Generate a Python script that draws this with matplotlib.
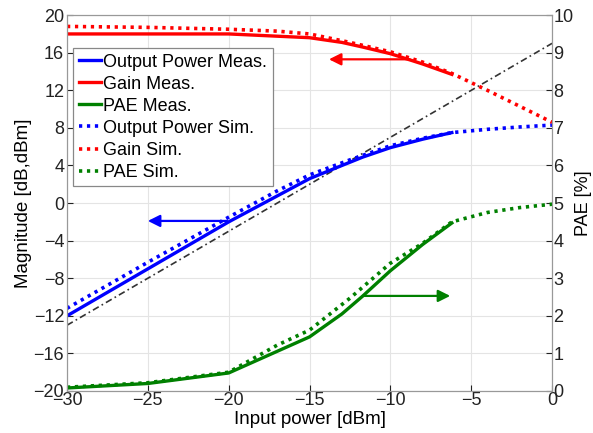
import matplotlib
matplotlib.use('Agg')
import matplotlib.pyplot as plt

plt.rcParams['font.family'] = ['Liberation Sans', 'DejaVu Sans']

# measured data (input power in dBm)
pin_meas = [-30, -25, -20, -15, -13, -11.7, -10, -8, -6.2]
pout_meas = [-12, -7, -2, 2.6, 4.0, 4.9, 5.9, 6.8, 7.5]
gain_meas = [18, 18, 18, 17.6, 17.1, 16.6, 15.9, 14.8, 13.7]
pae_meas = [0.08, 0.2, 0.48, 1.44, 2.05, 2.53, 3.2, 3.9, 4.47]

# simulated data
pin_sim = [-30, -25, -20, -17, -15, -12.5, -10, -8, -6.2, -4, -2, 0]
pout_sim = [-11.2, -6.3, -1.5, 1.3, 3.0, 4.6, 6.1, 6.9, 7.5, 7.85, 8.1, 8.3]
gain_sim = [18.8, 18.7, 18.5, 18.3, 18.0, 17.1, 16.1, 15.0, 13.8, 12.0, 10.3, 8.6]
pae_sim = [0.1, 0.22, 0.5, 1.22, 1.62, 2.47, 3.4, 3.93, 4.5, 4.75, 4.88, 4.97]

# linear gain reference line
pin_ref = [-30, 0]
pout_ref = [-13, 17]

xticks = [-30, -25, -20, -15, -10, -5, 0]
yticks = list(range(-20, 21, 4))
pae_ticks = list(range(0, 11))

blue, red, green = '#0000ff', '#ff0000', '#008000'
dot = (0, (0.9, 1.3))

fig = plt.figure(figsize=(5.93, 4.33), dpi=100)
ax = fig.add_axes([0.113, 0.097, 0.818, 0.868])
ax2 = ax.twinx()

ax.plot(pin_ref, pout_ref, color='#333333', lw=1.2, ls=(0, (4, 2, 1, 2)))
h1, = ax.plot(pin_meas, pout_meas, color=blue, lw=2.4, label='Output Power Meas.')
h2, = ax.plot(pin_meas, gain_meas, color=red, lw=2.4, label='Gain Meas.')
h4, = ax.plot(pin_sim, pout_sim, color=blue, lw=2.6, ls=dot, label='Output Power Sim.')
h5, = ax.plot(pin_sim, gain_sim, color=red, lw=2.6, ls=dot, label='Gain Sim.')
h3, = ax2.plot(pin_meas, pae_meas, color=green, lw=2.4, label='PAE Meas.')
h6, = ax2.plot(pin_sim, pae_sim, color=green, lw=2.6, ls=dot, label='PAE Sim.')

arrow = dict(arrowstyle='-|>', lw=1.6, mutation_scale=18, shrinkA=0, shrinkB=0)
ax.annotate('', xy=(-13.8, 15.3), xytext=(-8.8, 15.3), arrowprops=dict(arrow, color=red))
ax.annotate('', xy=(-25.0, -1.9), xytext=(-20.1, -1.9), arrowprops=dict(arrow, color=blue))
ax2.annotate('', xy=(-6.3, 2.53), xytext=(-11.7, 2.53), arrowprops=dict(arrow, color=green))

ax.set_xlim(-30, 0)
ax.set_ylim(-20, 20)
ax2.set_ylim(0, 10)
ax.set_xticks(xticks)
ax.set_yticks(yticks)
ax2.set_yticks(pae_ticks)
ax.grid(True, color='#e4e4e4', lw=0.8)

for a in (ax, ax2):
    a.tick_params(direction='in', labelsize=13, colors='#222222', length=4, width=0.8)
    for s in a.spines.values():
        s.set_color('#999999')
ax.tick_params(axis='x', pad=1)
ax.tick_params(axis='y', pad=2)
ax2.tick_params(axis='y', pad=1)

ax.set_xlabel('Input power [dBm]', fontsize=13.5, labelpad=1)
ax.set_ylabel('Magnitude [dB,dBm]', fontsize=13.5, labelpad=1)
ax2.set_ylabel('PAE [%]', fontsize=13, labelpad=1)

leg = ax2.legend(handles=[h1, h2, h3, h4, h5, h6], loc='upper left',
                 bbox_to_anchor=(0.013, 0.912), borderaxespad=0, fontsize=13,
                 fancybox=False, edgecolor='#888888', framealpha=1,
                 handlelength=1.25, handletextpad=0.12, labelspacing=0.28,
                 borderpad=0.3)
leg.get_frame().set_linewidth(0.9)

fig.savefig('out.png', dpi=100)
